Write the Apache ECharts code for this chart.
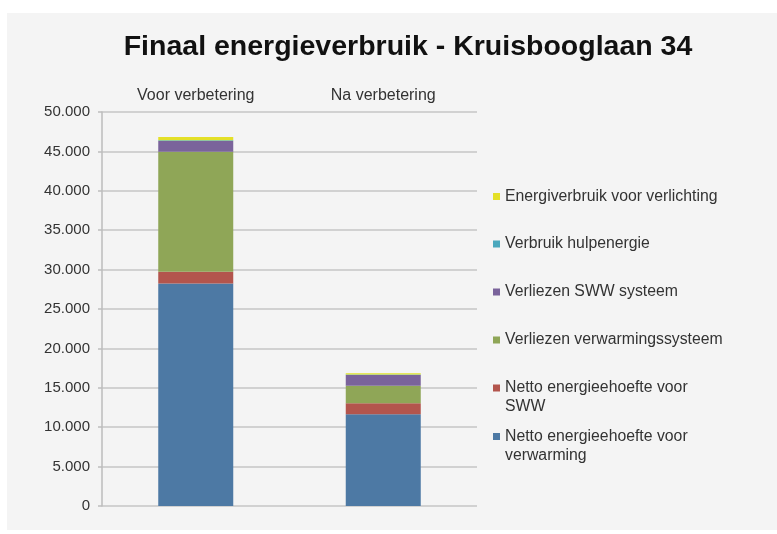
<!DOCTYPE html>
<html>
<head>
<meta charset="utf-8">
<script src="https://cdn.jsdelivr.net/npm/echarts@6/dist/echarts.min.js"></script>
<style>
  html, body { margin: 0; padding: 0; background: #ffffff; }
  #chart01 { width: 777px; height: 534px; }
</style>
</head>
<body>
<div id="chart01"></div>
<script>
    // data
    var categories = ["Voor verbetering", "Na verbetering"];
    var nettoVerwarming = [28250, 11640];
    var nettoSWW = [1470, 1390];
    var verliezenVerwarming = [15230, 2240];
    var verliezenSWW = [1360, 1350];
    var hulpenergie = [90, 60];
    var verlichting = [420, 170];

    var names = [
        "Netto energieehoefte voor\nverwarming",
        "Netto energieehoefte voor\nSWW",
        "Verliezen verwarmingssysteem",
        "Verliezen SWW systeem",
        "Verbruik hulpenergie",
        "Energiverbruik voor verlichting"
    ];
    var values = [nettoVerwarming, nettoSWW, verliezenVerwarming, verliezenSWW, hulpenergie, verlichting];
    var colors = ["#4d79a4", "#b3554d", "#8fa657", "#7a639b", "#4aa8bd", "#e4e028"];

    // legend positions (center of the first text line)
    var legendCenters = [436.5, 388, 340, 292, 244, 196.5];

    var myChart01 = echarts.init(document.getElementById('chart01'));

    var legends = names.map(function (n, i) {
        var twoLines = n.indexOf("\n") >= 0;
        return {
            data: [n],
            orient: "vertical",
            left: 493,
            top: twoLines ? legendCenters[i] - 28.5 : legendCenters[i] - 9.5,
            padding: 0,
            icon: "rect",
            itemWidth: 7,
            itemHeight: 7,
            selectedMode: false,
            // blank first line so the marker sits next to the first text line
            formatter: function (name) {
                return twoLines ? " \n" + name : name;
            },
            textStyle: {
                fontFamily: "Liberation Sans, Arial, sans-serif",
                fontSize: 15.8,
                color: "#333333",
                lineHeight: 19
            }
        };
    });

    var series = names.map(function (n, i) {
        return {
            name: n,
            type: "bar",
            stack: "totaal",
            barWidth: "40%",
            itemStyle: { color: colors[i] },
            data: values[i]
        };
    });

    var option = {
        backgroundColor: "#ffffff",
        animation: false,
        graphic: [
            {
                type: "rect",
                z: -10,
                silent: true,
                shape: { x: 7, y: 13, width: 770, height: 517 },
                style: { fill: "#f4f4f4" }
            }
        ],
        title: {
            text: "Finaal energieverbruik - Kruisbooglaan 34",
            left: 403,
            textAlign: "center",
            top: 28,
            textStyle: {
                fontFamily: "Liberation Sans, Arial, sans-serif",
                fontSize: 28.5,
                fontWeight: "bold",
                color: "#111111"
            }
        },
        legend: legends,
        grid: {
            left: 102,
            right: 300,
            top: 112,
            bottom: 28
        },
        xAxis: [
            {
                type: "category",
                position: "top",
                data: categories,
                axisLine: { show: false },
                axisTick: { show: false },
                axisLabel: {
                    margin: 8,
                    fontFamily: "Liberation Sans, Arial, sans-serif",
                    fontSize: 16,
                    color: "#333333"
                }
            }
        ],
        yAxis: [
            {
                type: "value",
                min: 0,
                max: 50000,
                interval: 5000,
                axisLine: { show: true, lineStyle: { color: "#bdbdbd", width: 1.5 } },
                axisTick: { show: true, inside: false, length: 4, lineStyle: { color: "#bdbdbd", width: 1.5 } },
                splitLine: { show: true, lineStyle: { color: "#c6c6c6", width: 1.5 } },
                axisLabel: {
                    margin: 12,
                    fontFamily: "Liberation Sans, Arial, sans-serif",
                    fontSize: 15,
                    color: "#333333",
                    formatter: function (v) {
                        return v === 0 ? "0" : String(v).replace(/\B(?=(\d{3})+(?!\d))/g, ".");
                    }
                }
            }
        ],
        series: series
    };

    myChart01.setOption(option);
</script>
</body>
</html>
